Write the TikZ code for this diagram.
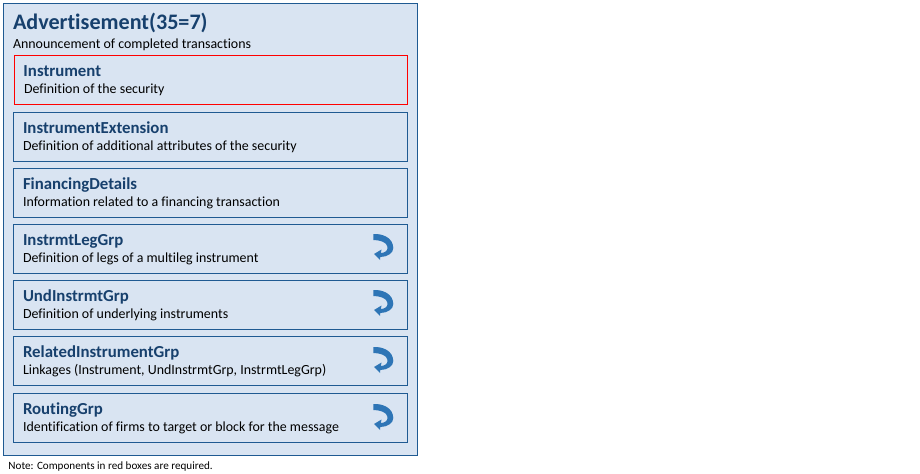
\documentclass[tikz,border=0pt]{standalone}
\usepackage{fontspec}
\setmainfont[Ligatures=CommonOff]{Carlito}
\definecolor{panelfill}{HTML}{D9E4F2}
\definecolor{edgeblue}{HTML}{1F5A92}
\definecolor{titleblue}{HTML}{17406D}
\definecolor{arrowblue}{HTML}{2E75B6}
\newcommand{\titlefont}{\fontsize{16.6pt}{18pt}\selectfont\bfseries\color{titleblue}}
\newcommand{\headfont}{\fontsize{12.6pt}{14pt}\selectfont\bfseries\color{titleblue}}
\newcommand{\descfont}{\fontsize{10.45pt}{12pt}\selectfont\color{black}}
\newcommand{\notefont}{\fontsize{8.35pt}{10pt}\selectfont\color{black}}
\tikzset{
  x=0.75pt,y=-0.75pt,
  panel/.style={draw=edgeblue,fill=panelfill,line width=0.75pt},
  compbox/.style={draw=edgeblue,line width=0.75pt},
  redbox/.style={draw=red,line width=0.75pt},
  lbl/.style={anchor=base west,inner sep=0pt,outer sep=0pt},
  pics/loopicon/.style={code={
    \fill[arrowblue] (0.8,0) .. controls (9,-0.5) and (20.5,3) .. (20.8,14)
      .. controls (20.8,19) and (15,23) .. (7.8,23)
      -- (7.5,26) -- (1.5,20) -- (9,15.5) -- (8.3,19)
      .. controls (12,19) and (15.5,17) .. (15,13)
      .. controls (14.5,8) and (7,6) .. (0.8,6) -- cycle;
  }}
}
\begin{document}
\begin{tikzpicture}
\useasboundingbox (0,0) rectangle (920,474);
\draw[panel] (3.5,3.5) rectangle (417.5,455.5);
\node[lbl] (title) at (13,30) {\titlefont Advertisement(35=7)};
\node[lbl] (sub) at (13,48.5) {\descfont Announcement of completed transactions};
\draw[redbox] (14.5,55.5) rectangle (407.5,104.5);
\node[lbl] (h1) at (23.5,77) {\headfont Instrument};
\node[lbl] (d1) at (24,93.5) {\descfont Definition of the security};
\draw[compbox] (13.5,112.5) rectangle (407.5,161.5);
\node[lbl] (h2) at (23,133.7) {\headfont InstrumentExtension};
\node[lbl] (d2) at (23,150.5) {\descfont Definition of additional attributes of the security};
\draw[compbox] (13.5,168.5) rectangle (407.5,217.5);
\node[lbl] (h3) at (23,189.7) {\headfont FinancingDetails};
\node[lbl] (d3) at (23,206.5) {\descfont Information related to a financing transaction};
\draw[compbox] (13.5,224.5) rectangle (407.5,273.5);
\node[lbl] (h4) at (23,245.5) {\headfont InstrmtLegGrp};
\node[lbl] (d4) at (23,262.5) {\descfont Definition of legs of a multileg instrument};
\pic at (372.5,234) {loopicon};
\draw[compbox] (13.5,280.5) rectangle (407.5,329.5);
\node[lbl] (h5) at (23,301.5) {\headfont UndInstrmtGrp};
\node[lbl] (d5) at (23,318.5) {\descfont Definition of underlying instruments};
\pic at (372.5,290) {loopicon};
\draw[compbox] (13.5,336.5) rectangle (407.5,385.5);
\node[lbl] (h6) at (23,357.5) {\headfont RelatedInstrumentGrp};
\node[lbl] (d6) at (23,374.5) {\descfont Linkages (Instrument, UndInstrmtGrp, InstrmtLegGrp)};
\pic at (372.5,347) {loopicon};
\draw[compbox] (13.5,393.5) rectangle (407.5,442.5);
\node[lbl] (h7) at (23,414.5) {\headfont RoutingGrp};
\node[lbl] (d7) at (23,431.5) {\descfont Identification of firms to target or block for the message};
\pic at (372.5,404) {loopicon};
\node[lbl] (note) at (8.5,469.5) {\notefont Note: Components in red boxes are required.};
\end{tikzpicture}
\end{document}
